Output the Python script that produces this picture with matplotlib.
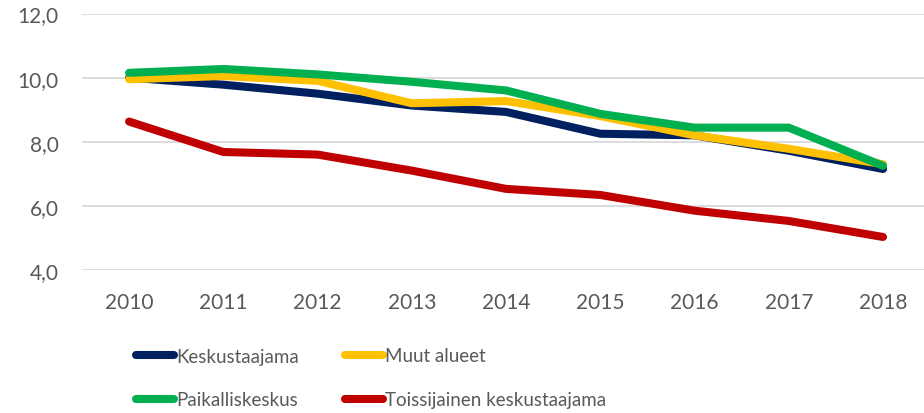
import matplotlib
matplotlib.use("Agg")
import matplotlib.pyplot as plt
from matplotlib import font_manager as fm

# data
years = ["2010", "2011", "2012", "2013", "2014", "2015", "2016", "2017", "2018"]
keskustaajama = [10.0, 9.78, 9.5, 9.13, 8.93, 8.25, 8.2, 7.72, 7.15]
muut_alueet = [9.95, 10.05, 9.9, 9.2, 9.27, 8.8, 8.2, 7.78, 7.3]
paikalliskeskus = [10.15, 10.27, 10.1, 9.87, 9.6, 8.87, 8.44, 8.44, 7.25]
toissijainen = [8.63, 7.68, 7.6, 7.1, 6.53, 6.34, 5.85, 5.53, 5.03]
yticks = [4, 6, 8, 10, 12]

installed = {f.name for f in fm.fontManager.ttflist}
tick_font = "Lato"
leg_font = "Liberation Sans Narrow" if "Liberation Sans Narrow" in installed else "Lato"
grey = "#595959"

fig = plt.figure(figsize=(9.24, 4.14), dpi=100)
ax = fig.add_axes([82 / 924, 143 / 414, 1 - 82 / 924, (414 - 14.5 - 143) / 414])

x = range(len(years))
series = [
    ("Keskustaajama", keskustaajama, "#002060"),
    ("Muut alueet", muut_alueet, "#FFC000"),
    ("Paikalliskeskus", paikalliskeskus, "#00B050"),
    ("Toissijainen keskustaajama", toissijainen, "#C00000"),
]
handles = []
for name, vals, col in series:
    h, = ax.plot(x, vals, color=col, lw=5.8, solid_capstyle="round",
                 solid_joinstyle="round", label=name)
    handles.append(h)

ax.set_xlim(-0.5, 8.435)
ax.set_ylim(4, 12)
ax.set_yticks(yticks)
ax.set_yticklabels([f"{v:.1f}".replace(".", ",") for v in yticks])
ax.set_xticks(list(x))
ax.set_xticklabels(years)
ax.grid(axis="y", color="#d9d9d9", lw=1.3)
ax.set_axisbelow(True)
for s in ax.spines.values():
    s.set_visible(False)
ax.tick_params(axis="both", length=0, labelcolor=grey, labelsize=15)
ax.tick_params(axis="x", pad=16)
ax.tick_params(axis="y", pad=17)
for lab in ax.get_xticklabels() + ax.get_yticklabels():
    lab.set_fontfamily(tick_font)

# legend, two columns, one entry per slot
slots = [(136, 357), (345, 357), (136, 401), (345, 401)]
for h, (px, py) in zip(handles, slots):
    leg = fig.legend([h], [h.get_label()], loc="center left",
                     bbox_to_anchor=(px / 924, 1 - py / 414),
                     frameon=False, borderpad=0, borderaxespad=0,
                     handlelength=2.05, handletextpad=0.1,
                     prop={"family": leg_font, "size": 13.5})
    for t in leg.get_texts():
        t.set_color(grey)
    for ln in leg.get_lines():
        ln.set_linewidth(5.8)

fig.savefig("out.png", dpi=100)
